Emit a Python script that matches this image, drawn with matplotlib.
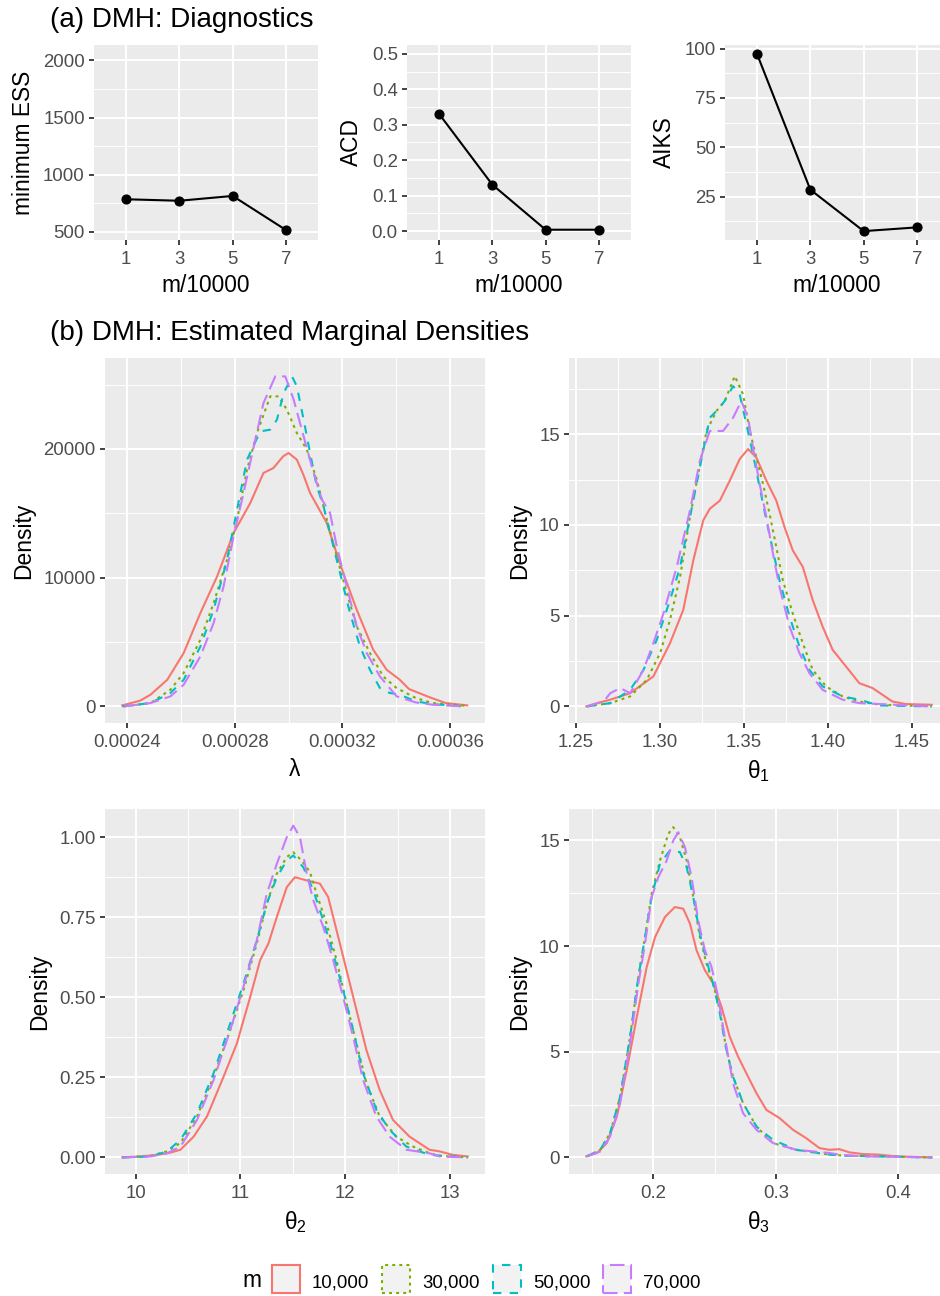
import numpy as np
import matplotlib
matplotlib.use('Agg')
import matplotlib.pyplot as plt
from matplotlib.patches import Rectangle
from matplotlib.ticker import NullLocator

plt.rcParams['font.family'] = ['Liberation Sans', 'DejaVu Sans']
plt.rcParams['mathtext.fontset'] = 'custom'
plt.rcParams['mathtext.rm'] = 'Liberation Sans'
plt.rcParams['mathtext.it'] = 'Liberation Sans:italic'
plt.rcParams['mathtext.bf'] = 'Liberation Sans:bold'

# ---------------- data: (a) diagnostics ----------------
m_ratio = [1, 3, 5, 7]
min_ess = [786, 773, 815, 517]
acd = [0.331, 0.131, 0.004, 0.004]
aiks = [97.3, 28.5, 7.5, 9.4]

m_labels = ['10,000', '30,000', '50,000', '70,000']
colors = ['#F8766D', '#7CAE00', '#00BFC4', '#C77CFF']

# ---------------- data: (b) marginal densities ----------------
# lambda (x in units of 1e-5, density in thousands)
lam_x_10k = [23.83, 24.50, 24.88, 25.50, 26.11, 26.73, 27.35, 27.96, 28.58, 29.07, 29.44, 29.80, 30.00, 30.31, 30.55, 30.80, 31.42, 31.72, 32.03, 32.53, 33.14, 33.64, 34.13, 34.47, 35.21, 35.83, 36.63]
lam_y_10k = [0.08, 0.45, 0.91, 2.07, 4.15, 7.26, 10.10, 13.47, 15.80, 18.14, 18.52, 19.43, 19.69, 19.17, 18.00, 16.58, 14.25, 12.30, 10.37, 7.51, 4.41, 2.85, 2.07, 1.35, 0.73, 0.26, 0.08]
lam_x_30k = [23.89, 24.88, 25.62, 26.11, 26.73, 27.22, 27.72, 28.09, 28.46, 28.83, 29.32, 29.63, 29.94, 30.31, 30.68, 31.05, 31.42, 31.79, 32.16, 32.53, 33.02, 33.51, 34.01, 34.72, 35.34, 36.57]
lam_y_30k = [0.0, 0.26, 1.30, 2.60, 5.18, 8.03, 11.40, 14.51, 18.39, 21.24, 24.09, 24.09, 23.05, 21.24, 19.95, 17.61, 14.51, 11.66, 8.81, 6.22, 4.15, 2.33, 1.43, 0.65, 0.26, 0.05]
lam_x_50k = [23.83, 24.88, 25.62, 26.11, 26.73, 27.22, 27.72, 28.09, 28.46, 28.95, 29.32, 29.57, 29.82, 30.13, 30.31, 30.56, 30.80, 31.05, 31.30, 31.54, 31.91, 32.28, 32.65, 33.02, 33.39, 33.76, 34.13, 34.72, 35.34, 36.50]
lam_y_50k = [0.0, 0.26, 1.04, 2.07, 4.66, 7.51, 11.40, 15.28, 19.17, 21.37, 21.50, 22.28, 24.35, 25.64, 24.86, 22.28, 19.69, 17.09, 15.54, 13.47, 10.37, 7.26, 4.66, 2.85, 1.43, 1.04, 0.91, 0.39, 0.18, 0.0]
lam_x_70k = [23.89, 24.88, 25.62, 26.11, 26.73, 27.22, 27.59, 27.96, 28.33, 28.71, 29.07, 29.51, 29.88, 30.19, 30.56, 30.93, 31.24, 31.54, 31.79, 32.16, 32.53, 32.90, 33.39, 34.01, 34.72, 35.34, 36.50]
lam_y_70k = [0.0, 0.26, 0.78, 1.69, 3.89, 6.48, 9.32, 13.21, 16.58, 20.20, 23.57, 25.64, 25.64, 23.83, 20.98, 18.14, 16.06, 15.03, 12.43, 9.32, 6.22, 4.15, 2.33, 0.78, 0.31, 0.13, 0.0]

# theta1
th1_x_10k = [1.2561, 1.2625, 1.2704, 1.2822, 1.2960, 1.3059, 1.3138, 1.3198, 1.3257, 1.3296, 1.3356, 1.3415, 1.3474, 1.3524, 1.3573, 1.3633, 1.3692, 1.3741, 1.3790, 1.3850, 1.3909, 1.3968, 1.4028, 1.4107, 1.4186, 1.4265, 1.4324, 1.4383, 1.4462, 1.4617]
th1_y_10k = [0.0, 0.18, 0.37, 0.73, 1.65, 3.48, 5.31, 8.05, 10.25, 10.89, 11.34, 12.44, 13.63, 14.18, 13.72, 12.44, 11.34, 9.88, 8.60, 7.68, 5.85, 4.39, 3.11, 2.20, 1.28, 1.01, 0.64, 0.27, 0.13, 0.09]
th1_x_30k = [1.2565, 1.2704, 1.2822, 1.2921, 1.3000, 1.3059, 1.3119, 1.3178, 1.3227, 1.3277, 1.3336, 1.3385, 1.3445, 1.3494, 1.3534, 1.3573, 1.3613, 1.3652, 1.3692, 1.3731, 1.3790, 1.3850, 1.3909, 1.3988, 1.4087, 1.4186, 1.4304, 1.4617]
th1_y_30k = [0.0, 0.18, 0.55, 1.46, 2.93, 4.76, 7.13, 10.43, 12.81, 15.18, 16.28, 16.83, 18.20, 17.20, 15.18, 13.72, 12.26, 10.61, 8.78, 6.95, 5.12, 3.48, 2.01, 1.10, 0.55, 0.27, 0.09, 0.0]
th1_x_50k = [1.2565, 1.2704, 1.2822, 1.2901, 1.2980, 1.3059, 1.3119, 1.3178, 1.3237, 1.3296, 1.3336, 1.3385, 1.3435, 1.3474, 1.3514, 1.3553, 1.3593, 1.3633, 1.3672, 1.3711, 1.3771, 1.3830, 1.3889, 1.3968, 1.4087, 1.4186, 1.4304, 1.4617]
th1_y_50k = [0.0, 0.18, 0.91, 2.01, 3.66, 5.85, 7.68, 10.43, 13.17, 15.91, 16.28, 16.83, 17.65, 17.20, 15.55, 13.91, 12.07, 10.25, 8.60, 6.95, 4.94, 3.29, 2.01, 1.10, 0.55, 0.37, 0.05, 0.0]
th1_x_70k = [1.2565, 1.2664, 1.2704, 1.2763, 1.2822, 1.2901, 1.2960, 1.3020, 1.3099, 1.3178, 1.3237, 1.3296, 1.3375, 1.3435, 1.3484, 1.3524, 1.3553, 1.3593, 1.3633, 1.3672, 1.3711, 1.3771, 1.3830, 1.3889, 1.3968, 1.4087, 1.4186, 1.4617]
th1_y_70k = [0.0, 0.27, 0.73, 1.01, 0.73, 2.01, 3.48, 5.12, 7.68, 10.79, 13.54, 15.18, 15.18, 15.91, 16.83, 15.91, 14.27, 12.26, 10.43, 8.42, 6.59, 4.39, 2.93, 1.83, 0.91, 0.37, 0.18, 0.0]

# theta2
th2_x_10k = [9.873, 10.048, 10.206, 10.333, 10.428, 10.554, 10.681, 10.839, 10.966, 11.093, 11.188, 11.267, 11.347, 11.442, 11.520, 11.632, 11.758, 11.837, 11.917, 12.012, 12.107, 12.202, 12.328, 12.455, 12.613, 12.803, 12.898, 13.025, 13.168]
th2_y_10k = [0.0, 0.003, 0.008, 0.015, 0.024, 0.065, 0.128, 0.252, 0.356, 0.501, 0.616, 0.668, 0.751, 0.844, 0.875, 0.865, 0.855, 0.813, 0.709, 0.585, 0.460, 0.335, 0.211, 0.117, 0.065, 0.024, 0.019, 0.008, 0.003]
th2_x_30k = [9.873, 10.143, 10.301, 10.428, 10.586, 10.744, 10.903, 11.029, 11.156, 11.251, 11.347, 11.442, 11.504, 11.584, 11.663, 11.727, 11.822, 11.917, 12.012, 12.107, 12.202, 12.328, 12.486, 12.645, 12.803, 12.898, 13.168]
th2_y_30k = [0.0, 0.005, 0.019, 0.045, 0.128, 0.252, 0.398, 0.522, 0.668, 0.792, 0.886, 0.938, 0.953, 0.927, 0.891, 0.823, 0.730, 0.616, 0.481, 0.356, 0.232, 0.128, 0.065, 0.034, 0.013, 0.005, 0.0]
th2_x_50k = [9.873, 10.143, 10.301, 10.428, 10.586, 10.744, 10.903, 11.029, 11.156, 11.251, 11.347, 11.442, 11.504, 11.600, 11.695, 11.790, 11.885, 11.980, 12.075, 12.170, 12.296, 12.423, 12.582, 12.803, 13.168]
th2_y_50k = [0.0, 0.003, 0.019, 0.055, 0.138, 0.263, 0.419, 0.543, 0.678, 0.792, 0.875, 0.927, 0.943, 0.906, 0.834, 0.740, 0.637, 0.522, 0.398, 0.263, 0.149, 0.086, 0.034, 0.008, 0.0]
th2_x_70k = [9.873, 10.143, 10.301, 10.428, 10.586, 10.744, 10.903, 11.029, 11.156, 11.251, 11.347, 11.442, 11.504, 11.568, 11.632, 11.695, 11.790, 11.885, 11.980, 12.075, 12.170, 12.296, 12.423, 12.582, 12.803, 12.898, 13.168]
th2_y_70k = [0.0, 0.003, 0.013, 0.034, 0.117, 0.242, 0.398, 0.533, 0.678, 0.823, 0.917, 1.000, 1.036, 1.000, 0.886, 0.803, 0.720, 0.616, 0.501, 0.377, 0.242, 0.128, 0.065, 0.024, 0.013, 0.003, 0.0]

# theta3
th3_x_10k = [0.1452, 0.1539, 0.1620, 0.1702, 0.1783, 0.1865, 0.1946, 0.2014, 0.2095, 0.2176, 0.2244, 0.2299, 0.2353, 0.2421, 0.2488, 0.2557, 0.2624, 0.2692, 0.2760, 0.2842, 0.2923, 0.3031, 0.3140, 0.3249, 0.3357, 0.3438, 0.3520, 0.3601, 0.3710, 0.3845, 0.3981, 0.4274]
th3_y_10k = [0.05, 0.21, 0.68, 1.94, 4.14, 6.66, 9.02, 10.43, 11.38, 11.85, 11.77, 11.07, 9.80, 8.86, 8.23, 7.13, 5.71, 4.77, 3.98, 3.04, 2.25, 1.86, 1.31, 0.91, 0.44, 0.36, 0.39, 0.24, 0.16, 0.13, 0.05, 0.0]
th3_x_30k = [0.1457, 0.1566, 0.1647, 0.1729, 0.1810, 0.1878, 0.1932, 0.1986, 0.2054, 0.2122, 0.2163, 0.2217, 0.2272, 0.2326, 0.2380, 0.2434, 0.2488, 0.2543, 0.2597, 0.2651, 0.2733, 0.2842, 0.2977, 0.3167, 0.3438, 0.3574, 0.4274]
th3_y_30k = [0.05, 0.36, 1.15, 2.88, 5.71, 8.55, 10.43, 12.48, 14.05, 15.31, 15.63, 15.15, 14.05, 12.32, 10.43, 9.18, 8.23, 6.97, 5.08, 3.82, 2.57, 1.46, 0.68, 0.36, 0.13, 0.08, 0.0]
th3_x_50k = [0.1457, 0.1566, 0.1647, 0.1729, 0.1810, 0.1878, 0.1932, 0.1986, 0.2054, 0.2136, 0.2217, 0.2272, 0.2326, 0.2380, 0.2434, 0.2488, 0.2543, 0.2597, 0.2651, 0.2733, 0.2842, 0.2977, 0.3167, 0.3438, 0.3574, 0.4274]
th3_y_50k = [0.05, 0.36, 1.15, 2.88, 5.71, 8.55, 10.43, 12.32, 13.90, 14.53, 14.45, 13.74, 12.32, 10.59, 9.33, 8.23, 6.82, 5.08, 3.82, 2.57, 1.46, 0.83, 0.36, 0.13, 0.08, 0.0]
th3_x_70k = [0.1457, 0.1566, 0.1647, 0.1729, 0.1810, 0.1878, 0.1932, 0.1986, 0.2041, 0.2109, 0.2163, 0.2204, 0.2258, 0.2312, 0.2366, 0.2421, 0.2475, 0.2529, 0.2583, 0.2651, 0.2733, 0.2842, 0.2977, 0.3167, 0.3438, 0.3520, 0.3710, 0.4274]
th3_y_70k = [0.05, 0.28, 0.99, 2.57, 5.40, 8.23, 10.12, 12.32, 13.27, 14.05, 15.00, 15.39, 14.68, 13.27, 11.22, 9.80, 9.02, 7.60, 5.71, 3.51, 2.09, 1.31, 0.68, 0.36, 0.21, 0.13, 0.05, 0.0]

# tick labels
ess_ticks = [500, 1000, 1500, 2000]
acd_ticks = [0.0, 0.1, 0.2, 0.3, 0.4, 0.5]
aiks_ticks = [25, 50, 75, 100]
lam_ticks = [0.00024, 0.00028, 0.00032, 0.00036]
lam_ticklabels = ['0.00024', '0.00028', '0.00032', '0.00036']
lam_yticks = [0, 10000, 20000]
th1_ticks = [1.25, 1.30, 1.35, 1.40, 1.45]
th1_ticklabels = ['1.25', '1.30', '1.35', '1.40', '1.45']
th1_yticks = [0, 5, 10, 15]
th2_ticks = [10, 11, 12, 13]
th2_yticks = [0.0, 0.25, 0.5, 0.75, 1.0]
th2_yticklabels = ['0.00', '0.25', '0.50', '0.75', '1.00']
th3_ticks = [0.2, 0.3, 0.4]
th3_ticklabels = ['0.2', '0.3', '0.4']
th3_yticks = [0, 5, 10, 15]

# ---------------- styling helpers ----------------
W, H = 940, 1296
fig = plt.figure(figsize=(W / 100, H / 100), dpi=100)

PANEL = '#EBEBEB'
TICK_FS = 13.4
TITLE_FS = 16.4
LW = 1.5
dash_styles = ['-', (0, (1.4, 2.0)), (0, (4, 4)), (0, (7, 3))]


def add_ax(x0, y0, x1, y1):
    return fig.add_axes([x0 / W, 1 - y1 / H, (x1 - x0) / W, (y1 - y0) / H])


def style(ax, xt, xtl, yt, ytl, xminor=None, yminor=None):
    ax.set_facecolor(PANEL)
    for s in ax.spines.values():
        s.set_visible(False)
    ax.set_xticks(xt)
    ax.set_xticklabels(xtl)
    ax.set_yticks(yt)
    ax.set_yticklabels(ytl)
    if xminor is not None:
        ax.set_xticks(xminor, minor=True)
    else:
        ax.xaxis.set_minor_locator(NullLocator())
    if yminor is not None:
        ax.set_yticks(yminor, minor=True)
    else:
        ax.yaxis.set_minor_locator(NullLocator())
    ax.grid(which='major', color='white', lw=1.4)
    ax.grid(which='minor', color='white', lw=0.7)
    ax.set_axisbelow(True)
    ax.tick_params(which='minor', length=0)
    ax.tick_params(which='major', length=3.7, width=1.3, color='#333333',
                   labelcolor='#4D4D4D', labelsize=TICK_FS)
    ax.tick_params(axis='x', which='major', pad=4.5)
    ax.tick_params(axis='y', which='major', pad=2.9)


# ---------------- (a) diagnostics ----------------
diag = [
    (add_ax(94, 45, 318, 240), min_ess, 'minimum ESS', ess_ticks,
     [str(t) for t in ess_ticks], [750, 1250, 1750], (430, 2134)),
    (add_ax(407, 45, 631, 240), acd, 'ACD', acd_ticks,
     ['%.1f' % t for t in acd_ticks], [0.05, 0.15, 0.25, 0.35, 0.45], (-0.025, 0.525)),
    (add_ax(725, 45, 949, 240), aiks, 'AIKS', aiks_ticks,
     [str(t) for t in aiks_ticks], [12.5, 37.5, 62.5, 87.5], (3.0, 101.8)),
]
for ax, vals, lab, yt, ytl, ymin, ylim in diag:
    style(ax, m_ratio, [str(v) for v in m_ratio], yt, ytl, None, ymin)
    ax.plot(m_ratio, vals, color='black', lw=LW, zorder=3)
    ax.plot(m_ratio, vals, 'o', color='black', ms=6.3, zorder=4)
    ax.set_xlim(-0.2, 8.2)
    ax.set_ylim(*ylim)
    ax.set_xlabel('m/10000', fontsize=TITLE_FS, labelpad=4)
    ax.set_ylabel(lab, fontsize=TITLE_FS, labelpad=6)

fig.text(50 / W, 1 - 27 / H, '(a) DMH: Diagnostics', fontsize=20, ha='left', va='baseline')
fig.text(50 / W, 1 - 340 / H, '(b) DMH: Estimated Marginal Densities', fontsize=20,
         ha='left', va='baseline')

# ---------------- (b) densities ----------------
lam_series = [(np.array(lam_x_10k) * 1e-5, np.array(lam_y_10k) * 1000),
              (np.array(lam_x_30k) * 1e-5, np.array(lam_y_30k) * 1000),
              (np.array(lam_x_50k) * 1e-5, np.array(lam_y_50k) * 1000),
              (np.array(lam_x_70k) * 1e-5, np.array(lam_y_70k) * 1000)]
th1_series = [(th1_x_10k, th1_y_10k), (th1_x_30k, th1_y_30k),
              (th1_x_50k, th1_y_50k), (th1_x_70k, th1_y_70k)]
th2_series = [(th2_x_10k, th2_y_10k), (th2_x_30k, th2_y_30k),
              (th2_x_50k, th2_y_50k), (th2_x_70k, th2_y_70k)]
th3_series = [(th3_x_10k, th3_y_10k), (th3_x_30k, th3_y_30k),
              (th3_x_50k, th3_y_50k), (th3_x_70k, th3_y_70k)]

dens = [
    (add_ax(105, 358, 485, 723), lam_series, 'λ',
     lam_ticks, lam_ticklabels, [0.00026, 0.00030, 0.00034],
     lam_yticks, [str(t) for t in lam_yticks], [5000, 15000, 25000],
     (0.0002319, 0.0003729), (-1290, 27070)),
    (add_ax(569, 358, 949, 723), th1_series, r'$\mathrm{\theta_1}$',
     th1_ticks, th1_ticklabels, [1.275, 1.325, 1.375, 1.425],
     th1_yticks, [str(t) for t in th1_yticks], [2.5, 7.5, 12.5, 17.5],
     (1.2458, 1.4720), (-0.915, 19.2)),
    (add_ax(105, 809, 485, 1174), th2_series, r'$\mathrm{\theta_2}$',
     th2_ticks, [str(t) for t in th2_ticks], [10.5, 11.5, 12.5],
     th2_yticks, th2_yticklabels, [0.125, 0.375, 0.625, 0.875],
     (9.708, 13.333), (-0.0518, 1.088)),
    (add_ax(569, 809, 949, 1174), th3_series, r'$\mathrm{\theta_3}$',
     th3_ticks, th3_ticklabels, [0.15, 0.25, 0.35],
     th3_yticks, [str(t) for t in th3_yticks], [2.5, 7.5, 12.5],
     (0.1311, 0.4415), (-0.785, 16.49)),
]
for ax, series, xlab, xt, xtl, xmin, yt, ytl, ymin, xlim, ylim in dens:
    style(ax, xt, xtl, yt, ytl, xmin, ymin)
    for (xs, ys), c, ls in zip(series, colors, dash_styles):
        ax.plot(xs, ys, color=c, lw=LW, linestyle=ls, zorder=3)
    ax.set_xlim(*xlim)
    ax.set_ylim(*ylim)
    ax.set_xlabel(xlab, fontsize=TITLE_FS, labelpad=5)
    ax.set_ylabel('Density', fontsize=TITLE_FS, labelpad=6)

# ---------------- legend ----------------
fig.text(242 / W, 1 - 1287 / H, 'm', fontsize=TITLE_FS, ha='left', va='baseline')
box_left = [272, 382, 493, 603]
for lab, c, ls, bx in zip(m_labels, colors, dash_styles, box_left):
    r = Rectangle((bx / W, 1 - 1293 / H), 28 / W, 28 / H, transform=fig.transFigure,
                  facecolor='#F2F2F2', edgecolor=c, lw=1.5, linestyle=ls)
    fig.add_artist(r)
    fig.text((bx + 40) / W, 1 - 1287 / H, lab, fontsize=TICK_FS, ha='left', va='baseline')

fig.savefig('out.png', dpi=100)
